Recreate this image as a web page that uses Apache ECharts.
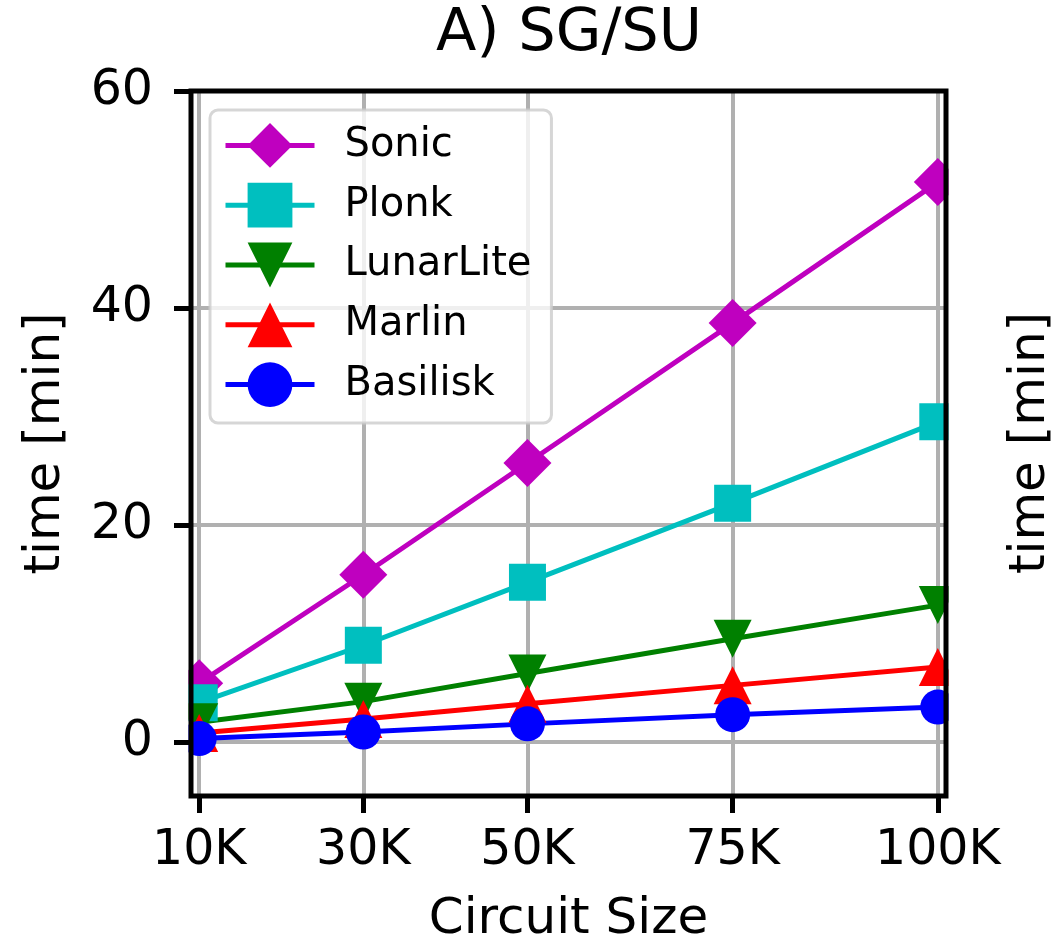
<!DOCTYPE html>
<html>
<head>
<meta charset="utf-8">
<script src="https://cdn.jsdelivr.net/npm/echarts@6/dist/echarts.min.js"></script>
<style>
  html, body { margin: 0; padding: 0; background: #fff; }
  #chart { width: 1061px; height: 950px; }
</style>
</head>
<body>
<div id="chart"></div>
<script>
// ---- data ----
const circuitSizes = [10, 30, 50, 75, 100];           // thousands
const circuitLabels = ['10K', '30K', '50K', '75K', '100K'];
const yTickValues = [0, 20, 40, 60];
const sonic     = [5.4, 15.4, 25.7, 38.6, 51.6];
const plonk     = [3.6, 8.9, 14.7, 22.0, 29.5];
const lunarLite = [1.8, 3.7, 6.3, 9.5, 12.6];
const marlin    = [0.8, 2.1, 3.5, 5.2, 6.9];
const basilisk  = [0.3, 0.9, 1.65, 2.5, 3.2];

const FONT = 'DejaVu Sans';
const chart = echarts.init(document.getElementById('chart'), null, { renderer: 'canvas' });

function pts(vals) { return circuitSizes.map((x, i) => [x, vals[i]]); }

function mkSeries(name, vals, color, symbol, size, rotate) {
  return {
    name: name,
    type: 'line',
    xAxisIndex: 0, yAxisIndex: 0,
    data: pts(vals),
    symbol: symbol,
    symbolSize: size,
    symbolRotate: rotate || 0,
    showAllSymbol: true,
    clip: true,
    lineStyle: { color: color, width: 5 },
    itemStyle: { color: color, borderWidth: 0 },
    emphasis: { disabled: true },
    z: 2
  };
}

const xMin = 9, xMax = 101, yMin = -5, yMax = 60;

const option = {
  animation: false,
  backgroundColor: '#ffffff',
  textStyle: { fontFamily: FONT },
  title: {
    text: 'A) SG/SU',
    left: 564, top: 0,
    textAlign: 'center',
    textStyle: { fontFamily: FONT, fontSize: 59, fontWeight: 'normal', color: '#000' }
  },
  grid: {
    left: 191, top: 91, width: 755, height: 708,
    show: true, borderColor: '#000', borderWidth: 5,
    backgroundColor: 'transparent', z: 10
  },
  legend: {
    left: 210, top: 110,
    orient: 'vertical',
    itemWidth: 89, itemHeight: 56, itemGap: 15,
    padding: [13, 20, 16, 13],
    backgroundColor: 'rgba(255,255,255,0.8)',
    borderColor: 'rgba(204,204,204,0.8)',
    borderWidth: 3, borderRadius: 8,
    lineStyle: { width: 5 },
    textStyle: { fontFamily: FONT, fontSize: 40, color: '#000', padding: [0, 0, 0, 25] },
    z: 20
  },
  xAxis: [
    { // grid lines
      type: 'value', gridIndex: 0, min: xMin, max: xMax, position: 'bottom', z: 0,
      axisLine: { show: false, onZero: false },
      axisTick: { show: false, customValues: circuitSizes },
      axisLabel: { show: false, customValues: circuitSizes },
      splitLine: { show: true, lineStyle: { color: '#b0b0b0', width: 4 } }
    },
    { // ticks and labels
      type: 'value', gridIndex: 0, min: xMin, max: xMax, position: 'bottom', z: 12,
      name: 'Circuit Size', nameLocation: 'middle', nameGap: 99,
      nameTextStyle: { fontFamily: FONT, fontSize: 50, color: '#000' },
      axisLine: { show: false, onZero: false },
      axisTick: { show: true, inside: false, length: 17, customValues: circuitSizes,
                  lineStyle: { color: '#000', width: 5 } },
      axisLabel: { show: true, margin: 31, customValues: circuitSizes,
                   fontFamily: FONT, fontSize: 49, color: '#000',
                   formatter: v => circuitLabels[circuitSizes.indexOf(v)] },
      splitLine: { show: false }
    }
  ],
  yAxis: [
    {
      type: 'value', gridIndex: 0, min: yMin, max: yMax, position: 'left', z: 0,
      axisLine: { show: false, onZero: false },
      axisTick: { show: false, customValues: yTickValues },
      axisLabel: { show: false, customValues: yTickValues },
      splitLine: { show: true, lineStyle: { color: '#b0b0b0', width: 4 } }
    },
    {
      type: 'value', gridIndex: 0, min: yMin, max: yMax, position: 'left', z: 12,
      name: 'time [min]', nameLocation: 'middle', nameGap: 120,
      nameTextStyle: { fontFamily: FONT, fontSize: 50, color: '#000' },
      axisLine: { show: false, onZero: false },
      axisTick: { show: true, inside: false, length: 17, customValues: yTickValues,
                  lineStyle: { color: '#000', width: 5 } },
      axisLabel: { show: true, margin: 38, customValues: yTickValues,
                   fontFamily: FONT, fontSize: 49, color: '#000' },
      splitLine: { show: false }
    }
  ],
  graphic: [
    { type: 'rect', z: 5, silent: true,
      shape: { x: 150, y: 60, width: 38.5, height: 770 }, style: { fill: '#fff' } },
    { type: 'rect', z: 5, silent: true,
      shape: { x: 948.5, y: 60, width: 55, height: 770 }, style: { fill: '#fff' } },
    { type: 'text', z: 30, silent: true,
      x: 1031, y: 443, rotation: Math.PI / 2,
      style: { text: 'time [min]', fontFamily: FONT, fontSize: 50, fill: '#000',
               align: 'center', verticalAlign: 'middle' } }
  ],
  series: [
    mkSeries('Sonic', sonic, '#bf00bf', 'diamond', 48),
    mkSeries('Plonk', plonk, '#00bfbf', 'rect', 37),
    mkSeries('LunarLite', lunarLite, '#008000', 'triangle', 38, 180),
    mkSeries('Marlin', marlin, '#ff0000', 'triangle', 38),
    mkSeries('Basilisk', basilisk, '#0000ff', 'circle', 35)
  ]
};
chart.setOption(option);
</script>
</body>
</html>
